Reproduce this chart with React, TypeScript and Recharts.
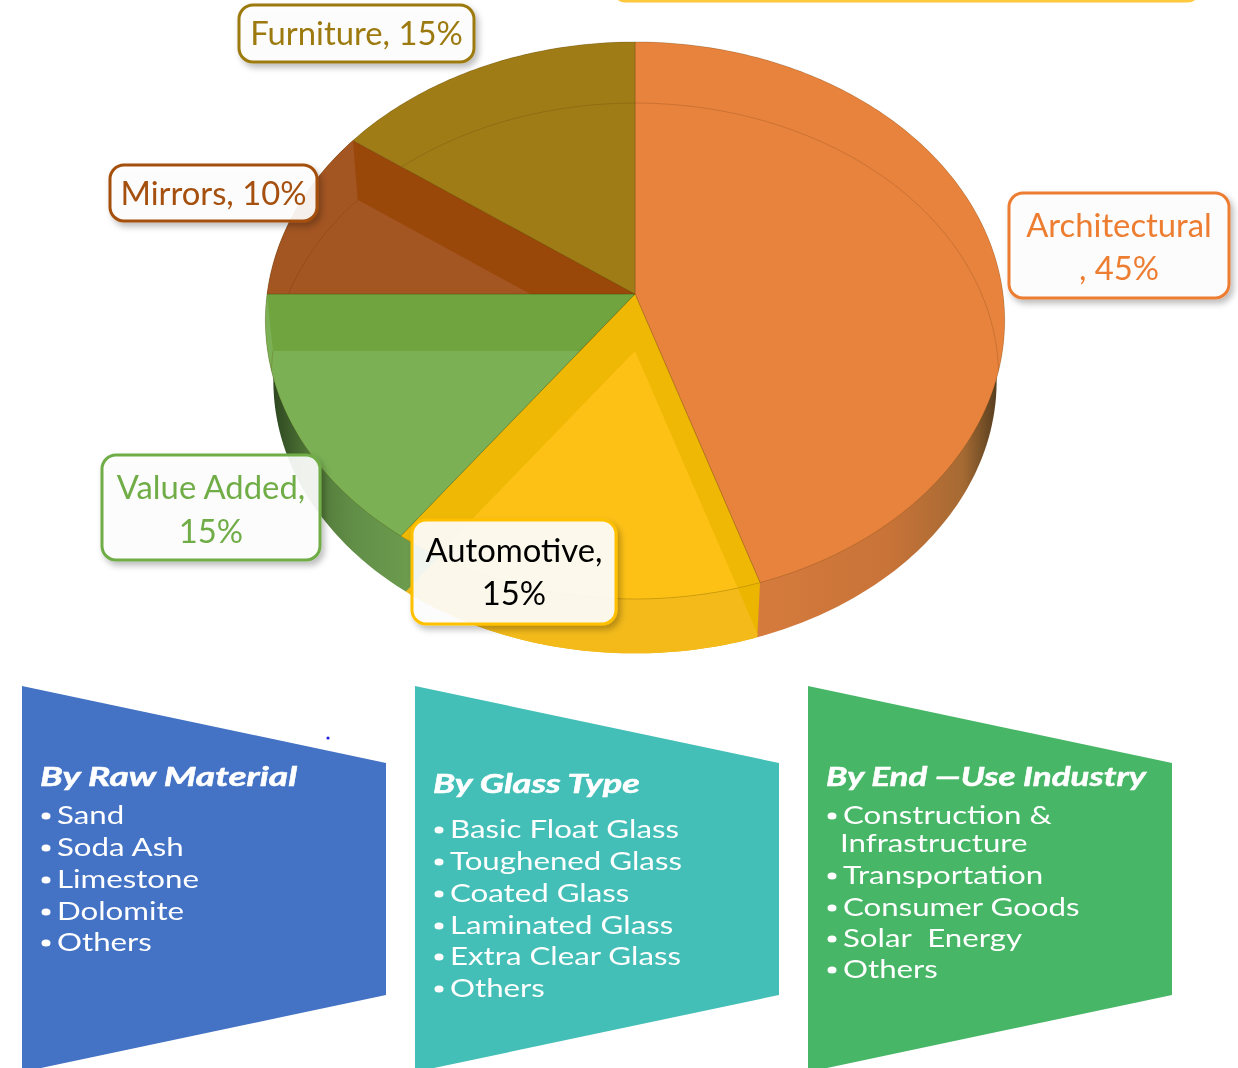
import { Pie, PieChart } from "recharts";

const segments = ["Architectural", "Automotive", "Value Added", "Mirrors", "Furniture"];
const shares = [45, 15, 15, 10, 15];
const rawMaterials = ["Sand", "Soda Ash", "Limestone", "Dolomite", "Others"];
const glassTypes = ["Basic Float Glass", "Toughened Glass", "Coated Glass", "Laminated Glass", "Extra Clear Glass", "Others"];
const endUses = ["Construction &", "Transportation", "Consumer Goods", "Solar  Energy", "Others"];

const pieData = segments.map((name, i) => ({ name, value: shares[i] }));

// slice colours: the band along the cut edge, and the lighter face
const bandColors = ["#e8833e", "#efb805", "#70a43e", "#9a480a", "#a07c17"];
const faceColors = ["#e8833e", "#fdc116", "#7bb055", "#a35522", "#a07c17"];
const wallColors = ["url(#orangeWall)", "#ecb500", "url(#greenWall)", "#9a480a", "#a07c17"];
const labelColors = ["#ed7d31", "#ffc000", "#70ad47", "#a5500f", "#9c7a0f"];
const labelTextColors = ["#ed7d31", "#000000", "#70ad47", "#a5500f", "#9c7a0f"];

// x, y, width, height of each callout box
const labelBoxes = [
  [1009, 193, 220, 105],
  [412, 520, 204, 104],
  [102, 455, 218, 105],
  [110, 165, 207, 56],
  [239, 5, 235, 57],
];
const labelBaselines = [
  [237, 280],
  [562, 605],
  [499, 543],
  [205],
  [45],
];

const TILT = 0.75; // vertical squash of the disc
const PERSPECTIVE = 0.095; // near edge of the disc is bigger
const TOP_APEX_Y = 294;
const TOP_RADIUS = 368;
const FACE_APEX_Y = 351; // lighter face sits under the cut apex
const FACE_RADIUS = 362;

type Pt = { x: number; y: number };

// pie angle (deg clockwise from top) to a point on the tilted disc
function project(cx: number, cy: number, r: number, deg: number): Pt {
  const rad = (deg * Math.PI) / 180;
  const u = Math.sin(rad);
  const v = -Math.cos(rad);
  const w = 1 - PERSPECTIVE * v;
  return { x: cx + (r * u) / w, y: cy + (r * TILT * v) / w };
}

function rimPoints(cx: number, cy: number, r: number, from: number, to: number) {
  const pts: Pt[] = [];
  const steps = Math.max(2, Math.ceil(to - from));
  for (let i = 0; i <= steps; i++) {
    pts.push(project(cx, cy, r, from + ((to - from) * i) / steps));
  }
  return pts;
}

function toPath(pts: Pt[], close = true) {
  const d = pts.map((p, i) => `${i === 0 ? "M" : "L"}${p.x.toFixed(2)},${p.y.toFixed(2)}`).join(" ");
  return close ? `${d} Z` : d;
}

function WallSector(props: any) {
  const { cx, cy, outerRadius, startAngle, endAngle, index } = props;
  const from = 90 - startAngle;
  const to = 90 - endAngle;
  const rim = rimPoints(cx, cy, outerRadius, from, to);
  if (index !== 1) return <path d={toPath([{ x: cx, y: cy }, ...rim])} fill={wallColors[index]} />;
  // automotive wall runs up to the top rim, with the lighter face carried down to the bottom rim
  const topA = project(cx, TOP_APEX_Y, TOP_RADIUS, from);
  const topB = project(cx, TOP_APEX_Y, TOP_RADIUS, to);
  const a = project(cx, FACE_APEX_Y, FACE_RADIUS, from);
  const b = project(cx, FACE_APEX_Y, FACE_RADIUS, to);
  const lightRim = rimPoints(cx, cy, outerRadius, from + 0.5, to - 0.8);
  return (
    <g>
      <path d={toPath([{ x: cx, y: cy }, topA, ...rim, topB])} fill={wallColors[index]} />
      <path d={toPath([{ x: cx, y: FACE_APEX_Y }, a, ...lightRim, b])} fill="#f3ba1a" />
    </g>
  );
}

function TopSector(props: any) {
  const { cx, cy, outerRadius, startAngle, endAngle, index } = props;
  const from = 90 - startAngle;
  const to = 90 - endAngle;
  const rim = rimPoints(cx, cy, outerRadius, from, to);
  const inner = rimPoints(cx, FACE_APEX_Y, FACE_RADIUS, from, to);
  const outline = toPath([{ x: cx, y: cy }, ...rim]);
  const face = toPath([{ x: cx, y: FACE_APEX_Y }, ...inner]);
  const band = toPath([...rim, ...[...inner].reverse()]);
  const clipId = `slice-${index}`;
  return (
    <g>
      <clipPath id={clipId}>
        <path d={outline} />
      </clipPath>
      <path d={outline} fill={bandColors[index]} />
      <g clipPath={`url(#${clipId})`}>
        <path d={`${face} ${band}`} fill={faceColors[index]} />
        <path d={toPath(inner, false)} fill="none" stroke="rgba(90,50,0,0.2)" strokeWidth={1} />
      </g>
      <path d={outline} fill="none" stroke="rgba(70,50,0,0.22)" strokeWidth={1} />
    </g>
  );
}

function labelLines(i: number) {
  const name = segments[i];
  const pct = `${shares[i]}%`;
  if (i === 0) return [name, `, ${pct}`];
  if (i === 1 || i === 2) return [`${name},`, pct];
  return [`${name}, ${pct}`];
}

function Callout(props: any) {
  const i = props.index;
  const [x, y, w, h] = labelBoxes[i];
  const lines = labelLines(i);
  return (
    <g>
      <rect
        x={x}
        y={y}
        width={w}
        height={h}
        rx={14}
        fill="rgba(255,255,255,0.9)"
        stroke={labelColors[i]}
        strokeWidth={3}
        filter="url(#calloutShadow)"
      />
      {lines.map((line, k) => (
        <text
          key={k}
          x={x + w / 2}
          y={labelBaselines[i][k]}
          textAnchor="middle"
          fill={labelTextColors[i]}
          fontFamily="Lato"
          fontSize={32.8}
        >
          {line}
        </text>
      ))}
    </g>
  );
}

const ROW_STRETCH = 1.25;

function Panel({ left, fill, title, titleX, titleY, titleStretch, rows }: any) {
  const right = left + 364;
  return (
    <g>
      <polygon points={`${left},686 ${right},763 ${right},995 ${left},1072`} fill={fill} />
      <g filter="url(#softText)">
        <text
          transform={`translate(${titleX},${titleY}) scale(${titleStretch},1)`}
          fill="#fff"
          stroke="#fff"
          strokeWidth={0.5}
          fontFamily="Lato"
          fontWeight={700}
          fontStyle="italic"
          fontSize={26}
        >
          {title}
        </text>
        {rows.map((r: any, k: number) => (
          <g key={k}>
            {r.bullet && <ellipse cx={r.x - 11} cy={r.y - 8} rx={4.5} ry={3.6} fill="#fff" />}
            <text
              transform={`translate(${r.x},${r.y}) scale(${ROW_STRETCH},1)`}
              fill="#fff"
              fontFamily="Lato"
              fontSize={25}
              style={{ whiteSpace: "pre" }}
            >
              {r.text}
            </text>
          </g>
        ))}
      </g>
    </g>
  );
}

const rawY = [824, 856, 888, 920, 951];
const glassY = [838, 870, 902, 934, 965, 997];
const endUseY = [824, 884, 916, 947, 978];

export default function App() {
  const rawRows = rawMaterials.map((text, i) => ({ text, x: 57, y: rawY[i], bullet: true }));
  const glassRows = glassTypes.map((text, i) => ({ text, x: 450, y: glassY[i], bullet: true }));
  const endRows = endUses.map((text, i) => ({ text, x: 843, y: endUseY[i], bullet: true }));
  endRows.push({ text: "Infrastructure", x: 840, y: 852, bullet: false });

  return (
    <div style={{ position: "absolute", left: 0, top: 0, width: 1238, height: 1068, overflow: "hidden", background: "#fff" }}>
      <svg width={1238} height={1068} style={{ position: "absolute", left: 0, top: 0 }}>
        <defs>
          <filter id="softText" x="-5%" y="-5%" width="110%" height="110%">
            <feGaussianBlur stdDeviation={0.5} />
          </filter>
        </defs>
        <rect x={613.5} y={-60} width={586} height={61} rx={12} fill="#fff" stroke="#ffc83d" strokeWidth={3} />
        <Panel left={22} fill="#4472c4" title="By Raw Material" titleX={40} titleY={786} titleStretch={1.43} rows={rawRows} />
        <Panel left={415} fill="#43bfb7" title="By Glass Type" titleX={433} titleY={793} titleStretch={1.39} rows={glassRows} />
        <Panel left={808} fill="#47b666" title="By End —Use Industry" titleX={826} titleY={786} titleStretch={1.346} rows={endRows} />
        <circle cx={328} cy={738} r={1.6} fill="#2222dd" />
      </svg>
      <div style={{ position: "absolute", left: 0, top: 0 }}>
        <PieChart width={1238} height={1068} margin={{ top: 0, right: 0, bottom: 0, left: 0 }}>
          <defs>
            <linearGradient id="orangeWall" gradientUnits="userSpaceOnUse" x1={756} y1={0} x2={1000} y2={0}>
              <stop offset="0%" stopColor="#d67b3e" />
              <stop offset="55%" stopColor="#c87338" />
              <stop offset="85%" stopColor="#a56a33" />
              <stop offset="100%" stopColor="#4f3a1e" />
            </linearGradient>
            <linearGradient id="greenWall" gradientUnits="userSpaceOnUse" x1={272} y1={0} x2={410} y2={0}>
              <stop offset="0%" stopColor="#2c4520" />
              <stop offset="25%" stopColor="#4e7435" />
              <stop offset="60%" stopColor="#628f48" />
              <stop offset="100%" stopColor="#6c9c4e" />
            </linearGradient>
            <filter id="calloutShadow" x="-20%" y="-20%" width="140%" height="150%">
              <feDropShadow dx={3} dy={4} stdDeviation={3} floodColor="#000" floodOpacity={0.28} />
            </filter>
          </defs>
          <Pie
            data={pieData}
            dataKey="value"
            cx={635}
            cy={355}
            outerRadius={360}
            startAngle={90}
            endAngle={-270}
            stroke="none"
            shape={WallSector}
            isAnimationActive={false}
          />
          <Pie
            data={pieData}
            dataKey="value"
            cx={635}
            cy={TOP_APEX_Y}
            outerRadius={TOP_RADIUS}
            startAngle={90}
            endAngle={-270}
            stroke="none"
            shape={TopSector}
            label={Callout}
            labelLine={false}
            isAnimationActive={false}
          />
        </PieChart>
      </div>
    </div>
  );
}
